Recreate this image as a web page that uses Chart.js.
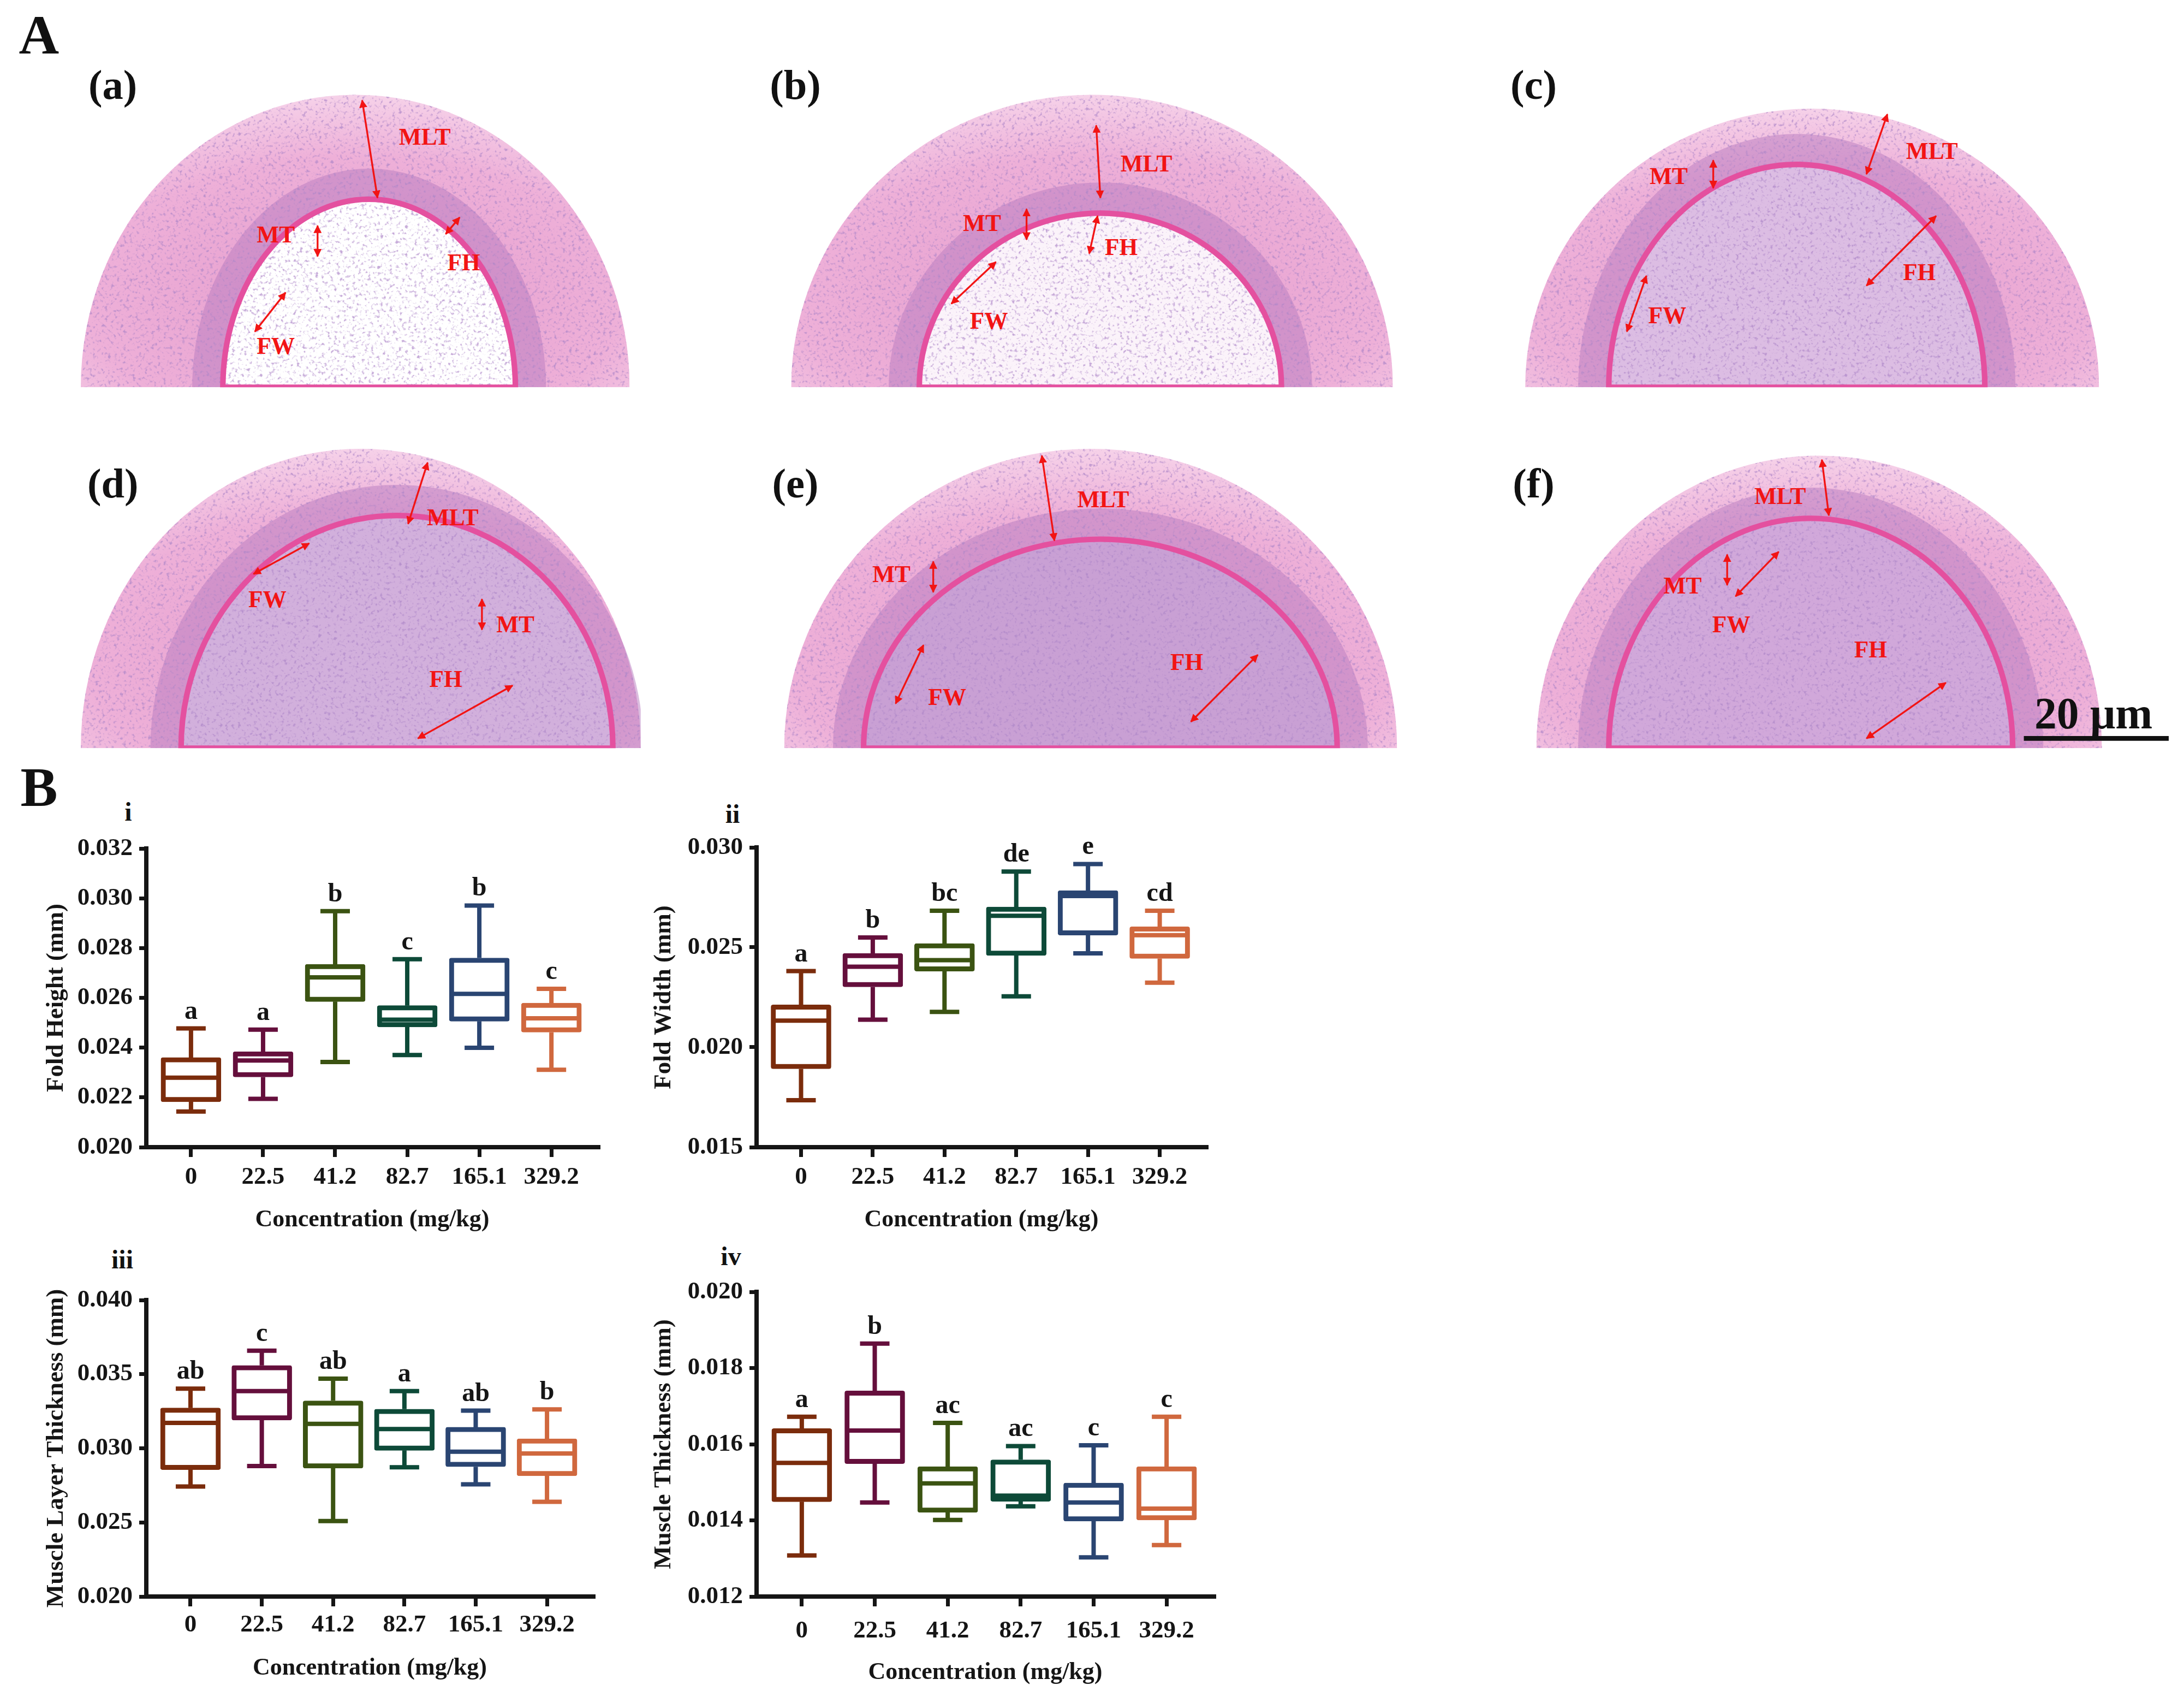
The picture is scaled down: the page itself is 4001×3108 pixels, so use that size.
<!DOCTYPE html>
<html>
<head>
<meta charset="utf-8">
<script src="https://cdn.jsdelivr.net/npm/chart.js@4.4.1/dist/chart.umd.min.js"></script>
<style>
  body { margin: 0; background: #fff; width: 4001px; height: 3108px; position: relative; overflow: hidden; }
  canvas { position: absolute; }
  svg { position: absolute; left: 0; top: 0; }
  .lbl { font-family: "Liberation Serif", serif; font-weight: bold; fill: #111; }
  .red { font-family: "Liberation Serif", serif; font-weight: bold; fill: #f21414; font-size: 17px; text-anchor: middle; dominant-baseline: central; }
</style>
</head>
<body>
<svg id="panelA" width="4001" height="3108" viewBox="0 0 4001 3108">
  <defs>
    <marker id="ah" viewBox="0 0 10 10" refX="9" refY="5" markerWidth="4.5" markerHeight="4.5" orient="auto-start-reverse">
      <path d="M0,0 L10,5 L0,10 z" fill="#f21414"/>
    </marker>
    <radialGradient id="tissue" cx="50%" cy="70%" r="70%">
      <stop offset="0%" stop-color="#e59ccd"/>
      <stop offset="70%" stop-color="#eeb0d8"/>
      <stop offset="100%" stop-color="#f6d2e9"/>
    </radialGradient>
    <filter id="speckle" x="0" y="0" width="100%" height="100%">
      <feTurbulence type="fractalNoise" baseFrequency="0.45" numOctaves="2" seed="7"/>
      <feColorMatrix type="matrix" values="0 0 0 0 0.42  0 0 0 0 0.24  0 0 0 0 0.58  4.5 0 0 0 -2.5"/>
      <feComposite in2="SourceGraphic" operator="in"/>
    </filter>
  </defs>
  <g id="photos" transform="scale(2.5517)"></g>
  <g class="lbl" transform="scale(2.5517)">
    <text x="28" y="25" font-size="40" text-anchor="middle" dominant-baseline="central">A</text>
    <text x="81" y="61" font-size="30" text-anchor="middle" dominant-baseline="central">(a)</text>
    <text x="571" y="61" font-size="30" text-anchor="middle" dominant-baseline="central">(b)</text>
    <text x="1101" y="61" font-size="30" text-anchor="middle" dominant-baseline="central">(c)</text>
    <text x="81" y="347" font-size="30" text-anchor="middle" dominant-baseline="central">(d)</text>
    <text x="571" y="347" font-size="30" text-anchor="middle" dominant-baseline="central">(e)</text>
    <text x="1101" y="347" font-size="30" text-anchor="middle" dominant-baseline="central">(f)</text>
    <text x="1503" y="512" font-size="32" text-anchor="middle" dominant-baseline="central">20 μm</text>
    <line x1="1453" y1="530" x2="1557" y2="530" stroke="#111" stroke-width="3.4"/>
    <text x="28" y="565" font-size="40" text-anchor="middle" dominant-baseline="central">B</text>
  </g>
  <g class="lbl" font-size="48" text-anchor="middle" dominant-baseline="central">
    <text x="235" y="1486">i</text>
    <text x="1342" y="1490">ii</text>
    <text x="224" y="2306">iii</text>
    <text x="1339" y="2300">iv</text>
  </g>
</svg>

<canvas id="chartI"></canvas>
<canvas id="chartII"></canvas>
<canvas id="chartIII"></canvas>
<canvas id="chartIV"></canvas>

<script>
const concentrations = ['0', '22.5', '41.2', '82.7', '165.1', '329.2'];
const boxColors = ['#7b2c0c', '#650f3c', '#3b5312', '#0d4a38', '#2a4572', '#d0683e'];

// i - Fold Height (mm)
const heightTicks = [0.020, 0.022, 0.024, 0.026, 0.028, 0.030, 0.032];
const heightMin = [0.02143, 0.02194, 0.02342, 0.02370, 0.02399, 0.02311];
const heightQ1 = [0.02182, 0.02282, 0.02585, 0.02483, 0.02506, 0.02462];
const heightMedian = [0.02279, 0.02348, 0.02682, 0.02512, 0.02616, 0.02518];
const heightQ3 = [0.02360, 0.02384, 0.02735, 0.02569, 0.02760, 0.02579];
const heightMax = [0.02477, 0.02472, 0.02948, 0.02755, 0.02971, 0.02636];
const heightLetters = ['a', 'a', 'b', 'c', 'b', 'c'];

// ii - Fold Width (mm)
const widthTicks = [0.015, 0.020, 0.025, 0.030];
const widthMin = [0.01735, 0.02138, 0.02177, 0.02255, 0.02470, 0.02323];
const widthQ1 = [0.01892, 0.02302, 0.02381, 0.02459, 0.02561, 0.02444];
const widthMedian = [0.02133, 0.02403, 0.02436, 0.02658, 0.02757, 0.02561];
const widthQ3 = [0.02212, 0.02470, 0.02519, 0.02702, 0.02784, 0.02603];
const widthMax = [0.02381, 0.02549, 0.02683, 0.02879, 0.02917, 0.02683];
const widthLetters = ['a', 'b', 'bc', 'de', 'e', 'cd'];

// iii - Muscle Layer Thickness (mm)
const layerTicks = [0.020, 0.025, 0.030, 0.035, 0.040];
const layerMin = [0.02742, 0.02880, 0.02509, 0.02872, 0.02757, 0.02639];
const layerQ1 = [0.02856, 0.03190, 0.02866, 0.02986, 0.02876, 0.02814];
const layerMedian = [0.03171, 0.03386, 0.03165, 0.03130, 0.02977, 0.02965];
const layerQ3 = [0.03272, 0.03559, 0.03320, 0.03264, 0.03142, 0.03064];
const layerMax = [0.03402, 0.03658, 0.03470, 0.03386, 0.03254, 0.03262];
const layerLetters = ['ab', 'c', 'ab', 'a', 'ab', 'b'];

// iv - Muscle Thickness (mm)
const muscleTicks = [0.012, 0.014, 0.016, 0.018, 0.020];
const muscleMin = [0.01308, 0.01447, 0.01401, 0.01437, 0.01303, 0.01335];
const muscleQ1 = [0.01449, 0.01549, 0.01421, 0.01450, 0.01398, 0.01401];
const muscleMedian = [0.01551, 0.01636, 0.01497, 0.01465, 0.01447, 0.01431];
const muscleQ3 = [0.01641, 0.01740, 0.01541, 0.01559, 0.01498, 0.01541];
const muscleMax = [0.01672, 0.01864, 0.01656, 0.01595, 0.01597, 0.01672];
const muscleLetters = ['a', 'b', 'ac', 'ac', 'c', 'c'];

// ---- panel A: stand-ins for the micrographs (display units, scaled 2.5517) ----
const photos = [
  { x0: 58, x1: 452, yb: 278, cx: 255, rx: 197, ry: 210, lx: 265, lrx: 105, lry: 135, lumen: '#ffffff' },
  { x0: 568, x1: 1000, yb: 278, cx: 784, rx: 216, ry: 210, lx: 790, lrx: 130, lry: 125, lumen: '#fbf3fa' },
  { x0: 1095, x1: 1507, yb: 278, cx: 1301, rx: 206, ry: 200, lx: 1290, lrx: 135, lry: 160, lumen: '#dcbde3' },
  { x0: 58, x1: 460, yb: 537, cx: 259, rx: 201, ry: 215, lx: 285, lrx: 155, lry: 167, lumen: '#d2b0dc' },
  { x0: 563, x1: 1003, yb: 537, cx: 783, rx: 220, ry: 215, lx: 790, lrx: 170, lry: 150, lumen: '#c9a0d4' },
  { x0: 1103, x1: 1510, yb: 537, cx: 1306, rx: 203, ry: 210, lx: 1300, lrx: 145, lry: 165, lumen: '#d1a8da' }
];
const arrows = [
  [260, 72, 271, 142], [228, 162, 228, 184], [330, 156, 320, 168], [205, 210, 183, 238],
  [787, 90, 790, 142], [737, 150, 737, 172], [788, 155, 782, 182], [715, 188, 683, 218],
  [1355, 82, 1340, 125], [1230, 115, 1230, 135], [1390, 155, 1340, 205], [1182, 198, 1168, 238],
  [307, 332, 293, 376], [222, 390, 182, 412], [346, 430, 346, 452], [368, 492, 300, 530],
  [748, 327, 757, 388], [670, 403, 670, 425], [903, 470, 855, 518], [663, 463, 643, 505],
  [1308, 330, 1313, 370], [1240, 398, 1240, 420], [1277, 396, 1246, 428], [1397, 490, 1340, 530]
];
const photoLabels = [
  ['MLT', 305, 98], ['MT', 198, 168], ['FH', 333, 188], ['FW', 198, 248],
  ['MLT', 823, 117], ['MT', 705, 160], ['FH', 805, 177], ['FW', 710, 230],
  ['MLT', 1387, 108], ['MT', 1198, 126], ['FH', 1378, 195], ['FW', 1197, 226],
  ['MLT', 325, 371], ['FW', 192, 430], ['MT', 370, 448], ['FH', 320, 487],
  ['MLT', 792, 358], ['MT', 640, 412], ['FH', 852, 475], ['FW', 680, 500],
  ['MLT', 1278, 356], ['MT', 1208, 420], ['FW', 1243, 448], ['FH', 1343, 466]
];

function archPath(cx, rx, ry, yb) {
  return 'M' + (cx - rx) + ',' + yb + ' A' + rx + ',' + ry + ' 0 0 1 ' + (cx + rx) + ',' + yb + ' Z';
}

function drawPhotos() {
  const g = document.getElementById('photos');
  let html = '';
  photos.forEach((p, i) => {
    const top = p.yb - 215;
    const outer = archPath(p.cx, p.rx, p.ry, p.yb);
    html += '<clipPath id="clip' + i + '"><rect x="' + p.x0 + '" y="' + top + '" width="' + (p.x1 - p.x0) + '" height="' + (p.yb - top) + '"/></clipPath>';
    html += '<g clip-path="url(#clip' + i + ')">';
    html += '<path d="' + outer + '" fill="url(#tissue)"/>';
    html += '<path d="' + archPath(p.lx, p.lrx + 22, p.lry + 22, p.yb) + '" fill="#b77cc0" opacity="0.5"/>';
    html += '<path d="' + archPath(p.lx, p.lrx, p.lry, p.yb) + '" fill="' + p.lumen + '"/>';
    html += '<path d="' + outer + '" fill="#000" filter="url(#speckle)" opacity="0.7"/>';
    html += '<path d="' + archPath(p.lx, p.lrx, p.lry, p.yb) + '" fill="none" stroke="#e4509f" stroke-width="4"/>';
    html += '</g>';
  });
  arrows.forEach(a => {
    html += '<line x1="' + a[0] + '" y1="' + a[1] + '" x2="' + a[2] + '" y2="' + a[3] + '" stroke="#f21414" stroke-width="1.3" marker-start="url(#ah)" marker-end="url(#ah)"/>';
  });
  photoLabels.forEach(t => {
    html += '<text class="red" x="' + t[1] + '" y="' + t[2] + '">' + t[0] + '</text>';
  });
  g.innerHTML = html;
}

// ---- panel B: box plots ----
Chart.defaults.font.family = '"Liberation Serif", serif';
Chart.defaults.color = '#151515';

function boxParts(stats) {
  return {
    id: 'boxParts',
    afterDatasetsDraw(chart) {
      const { ctx, scales: { x, y } } = chart;
      const bars = chart.getDatasetMeta(0).data;
      ctx.save();
      ctx.lineWidth = 8;
      ctx.lineCap = 'butt';
      for (let i = 0; i < concentrations.length; i++) {
        const px = x.getPixelForValue(i);
        const half = bars[i].width / 2;
        const yMin = y.getPixelForValue(stats.min[i]);
        const yQ1 = y.getPixelForValue(stats.q1[i]);
        const yMed = y.getPixelForValue(stats.median[i]);
        const yQ3 = y.getPixelForValue(stats.q3[i]);
        const yMax = y.getPixelForValue(stats.max[i]);
        ctx.strokeStyle = boxColors[i];
        ctx.beginPath();
        ctx.moveTo(px, yQ3); ctx.lineTo(px, yMax);
        ctx.moveTo(px - 27, yMax); ctx.lineTo(px + 27, yMax);
        ctx.moveTo(px, yQ1); ctx.lineTo(px, yMin);
        ctx.moveTo(px - 27, yMin); ctx.lineTo(px + 27, yMin);
        ctx.moveTo(px - half + 2, yMed); ctx.lineTo(px + half - 2, yMed);
        ctx.stroke();
        ctx.fillStyle = '#151515';
        ctx.font = 'bold 48px "Liberation Serif"';
        ctx.textAlign = 'center';
        ctx.textBaseline = 'alphabetic';
        ctx.fillText(stats.letters[i], px, yMax - 18);
      }
      ctx.restore();
    }
  };
}

function boxChart(id, area, yTicks, stats, yTitle, pads) {
  const el = document.getElementById(id);
  const left = area.left - 208, top = area.top - 74;
  el.width = area.right - left + 40;
  el.height = area.bottom + 170 - top;
  el.style.left = left + 'px';
  el.style.top = top + 'px';

  return new Chart(el, {
    type: 'bar',
    data: {
      datasets: [{
        data: stats.q1.map((v, i) => ({ x: i, y: [v, stats.q3[i]] })),
        backgroundColor: '#ffffff',
        borderColor: boxColors,
        borderWidth: 9,
        borderSkipped: false,
        borderRadius: 4,
        barThickness: 110
      }]
    },
    options: {
      responsive: false,
      animation: false,
      devicePixelRatio: 1,
      layout: { padding: { left: 0, top: 74, right: 40, bottom: 0 } },
      plugins: { legend: { display: false }, tooltip: { enabled: false } },
      scales: {
        x: {
          type: 'linear',
          min: -0.62,
          max: 5.65,
          offset: false,
          afterBuildTicks: s => { s.ticks = concentrations.map((c, i) => ({ value: i })); },
          afterFit: s => { s.height = 170; },
          ticks: {
            callback: v => concentrations[v],
            font: { size: 45, weight: 'bold', lineHeight: 1.2 },
            padding: pads.tick,
            maxRotation: 0,
            autoSkip: false
          },
          grid: { offset: false, drawOnChartArea: false, drawTicks: true, tickLength: 18, lineWidth: 7, color: '#151515' },
          border: { display: true, width: 8, color: '#151515' },
          title: {
            display: true,
            text: 'Concentration (mg/kg)',
            font: { size: 44, weight: 'bold', lineHeight: 1.2 },
            padding: { top: 0, bottom: pads.xTitle }
          }
        },
        y: {
          min: yTicks[0],
          max: yTicks[yTicks.length - 1],
          afterBuildTicks: s => { s.ticks = yTicks.map(v => ({ value: v })); },
          afterFit: s => { s.width = 208; },
          ticks: {
            callback: v => v.toFixed(3),
            font: { size: 45, weight: 'bold', lineHeight: 1.2 },
            padding: 12
          },
          grid: { drawOnChartArea: false, drawTicks: true, tickLength: 13, lineWidth: 7, color: '#151515' },
          border: { display: true, width: 8, color: '#151515' },
          title: {
            display: true,
            text: yTitle,
            font: { size: 45, weight: 'bold', lineHeight: 1.2 },
            padding: { top: pads.yTitle, bottom: 0 }
          }
        }
      }
    },
    plugins: [boxParts(stats)]
  });
}

window.onload = function() {
  drawPhotos();

  boxChart('chartI', { left: 268, top: 1554, right: 1096, bottom: 2101 }, heightTicks,
    { min: heightMin, q1: heightQ1, median: heightMedian, q3: heightQ3, max: heightMax, letters: heightLetters },
    'Fold Height (mm)', { tick: 10, xTitle: 10, yTitle: 16 });

  boxChart('chartII', { left: 1386, top: 1552, right: 2210, bottom: 2101 }, widthTicks,
    { min: widthMin, q1: widthQ1, median: widthMedian, q3: widthQ3, max: widthMax, letters: widthLetters },
    'Fold Width (mm)', { tick: 10, xTitle: 10, yTitle: 11 });

  boxChart('chartIII', { left: 268, top: 2381, right: 1087, bottom: 2924 }, layerTicks,
    { min: layerMin, q1: layerQ1, median: layerMedian, q3: layerQ3, max: layerMax, letters: layerLetters },
    'Muscle Layer Thickness (mm)', { tick: 7, xTitle: 12, yTitle: 16 });

  boxChart('chartIV', { left: 1386, top: 2366, right: 2224, bottom: 2924 }, muscleTicks,
    { min: muscleMin, q1: muscleQ1, median: muscleMedian, q3: muscleQ3, max: muscleMax, letters: muscleLetters },
    'Muscle Thickness (mm)', { tick: 18, xTitle: 4, yTitle: 11 });
};
</script>
</body>
</html>
